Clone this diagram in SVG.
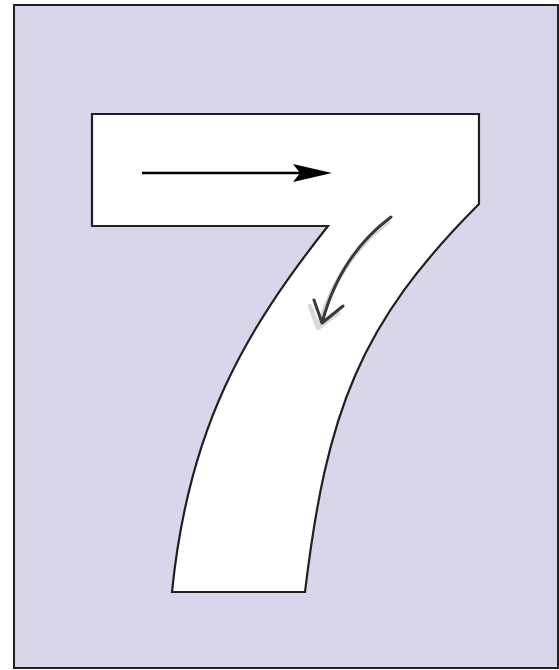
<svg xmlns="http://www.w3.org/2000/svg" width="559" height="670" viewBox="0 0 559 670">
<style>
.frame{fill:#d8d6eb;stroke:#231f20;stroke-width:2}
.digit{fill:#ffffff;stroke:#231f20;stroke-width:2.2;stroke-linejoin:miter}
.arrow{stroke:#000;stroke-width:2.6;fill:none}
.stroke{stroke:#3a3a3a;stroke-width:3;fill:none;stroke-linecap:round;stroke-linejoin:round}
.shadow{stroke:#d0d0d0;stroke-width:4.5;fill:none;stroke-linecap:round;stroke-linejoin:round;opacity:0.8}
</style>
<g id="frame">
<rect class="frame" x="14" y="5" width="544" height="663"/>
</g>
<g id="digit7">
<path class="digit" d="M92,114 L479,114 L479,204 C359,324 326.6,412 305,592 L172,592 C188.4,427 245,331 328,226 L92,226 Z"/>
</g>
<g id="connectors">
<g id="arrow-horizontal">
<line class="arrow" x1="142" y1="173" x2="302" y2="173"/>
<polygon points="332,173 293,164 300,173 293,182" fill="#000"/>
</g>
<g id="arrow-curved">
<path class="shadow" d="M388,222 Q338,260 318,328 M310,306 L318,328 L338,313"/>
<path class="stroke" d="M391,217 Q340,255 322,323 M314,300 L322,323 L343,306"/>
</g>
</g>
</svg>
